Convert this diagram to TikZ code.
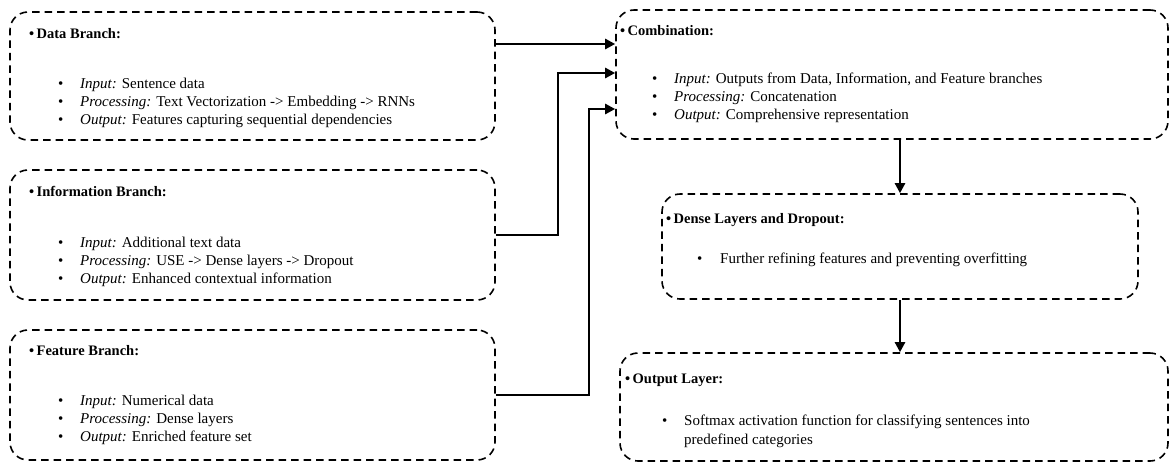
\documentclass[tikz,border=0pt]{standalone}
\usepackage{fontspec}
\setmainfont{Liberation Serif}
\usetikzlibrary{arrows.meta,calc}
\newcommand{\bl}{\makebox[22pt][l]{\textbullet}}
\begin{document}
\begin{tikzpicture}[x=1pt,y=-1pt,
  box/.style={draw, line width=1.6pt, dash pattern=on 7.5pt off 5pt, rounded corners=18pt, inner sep=0pt},
  arr/.style={line width=2.4pt, -{Triangle[length=10pt,width=10pt]}},
  ttl/.style={anchor=base west, font=\fontsize{14.5}{17}\selectfont\bfseries, inner sep=0pt},
  itm/.style={anchor=base west, font=\fontsize{15}{18}\selectfont, inner sep=0pt},
]
\useasboundingbox (0,0) rectangle (1172,464);
% boxes
\node[box, minimum width=485pt, minimum height=128pt] (data) at (252.5,76) {};
\node[box, minimum width=485pt, minimum height=130pt] (info) at (252.5,235) {};
\node[box, minimum width=485pt, minimum height=130pt] (feat) at (252.5,395) {};
\node[box, minimum width=552pt, minimum height=129pt] (comb) at (892,74.5) {};
\node[box, minimum width=476pt, minimum height=105pt] (dense) at (900,246.5) {};
\node[box, minimum width=548pt, minimum height=108pt] (out) at (894,407) {};
% Data branch
\node[ttl] (dataT) at (29,38) {\textbullet\,Data Branch:};
\node[itm] (data1) at (58,88) {\bl\textit{Input:} Sentence data};
\node[itm] (data2) at (58,106) {\bl\textit{Processing:} Text Vectorization -> Embedding -> RNNs};
\node[itm] (data3) at (58,124) {\bl\textit{Output:} Features capturing sequential dependencies};
% Information branch
\node[ttl] (infoT) at (29,196) {\textbullet\,Information Branch:};
\node[itm] (info1) at (58,247) {\bl\textit{Input:} Additional text data};
\node[itm] (info2) at (58,265) {\bl\textit{Processing:} USE -> Dense layers -> Dropout};
\node[itm] (info3) at (58,283) {\bl\textit{Output:} Enhanced contextual information};
% Feature branch
\node[ttl] (featT) at (29,355) {\textbullet\,Feature Branch:};
\node[itm] (feat1) at (58,405) {\bl\textit{Input:} Numerical data};
\node[itm] (feat2) at (58,423) {\bl\textit{Processing:} Dense layers};
\node[itm] (feat3) at (58,441) {\bl\textit{Output:} Enriched feature set};
% Combination
\node[ttl] (combT) at (620,35) {\textbullet\,Combination:};
\node[itm] (comb1) at (652,83) {\bl\textit{Input:} Outputs from Data, Information, and Feature branches};
\node[itm] (comb2) at (652,101) {\bl\textit{Processing:} Concatenation};
\node[itm] (comb3) at (652,119) {\bl\textit{Output:} Comprehensive representation};
% Dense
\node[ttl] (denseT) at (666,223) {\textbullet\,Dense Layers and Dropout:};
\node[itm] (dense1) at (697,263) {\makebox[23pt][l]{\textbullet}Further refining features and preventing overfitting};
% Output layer
\node[ttl] (outT) at (625,383) {\textbullet\,Output Layer:};
\node[itm] (out1) at (662,425) {\bl Softmax activation function for classifying sentences into};
\node[itm] (out2) at (684,444) {predefined categories};
% connectors
\draw[arr] ([yshift=32pt]data.east) -- ([yshift=30.5pt]comb.west);
\draw[arr] (info.east) -- ++(62,0) |- ([yshift=1.5pt]comb.west);
\draw[arr] (feat.east) -- ++(93,0) |- ([yshift=-34.5pt]comb.west);
\draw[arr] (dense.north |- comb.south) -- (dense.north);
\draw[arr] (dense.south) -- (dense.south |- out.north);
\end{tikzpicture}
\end{document}
